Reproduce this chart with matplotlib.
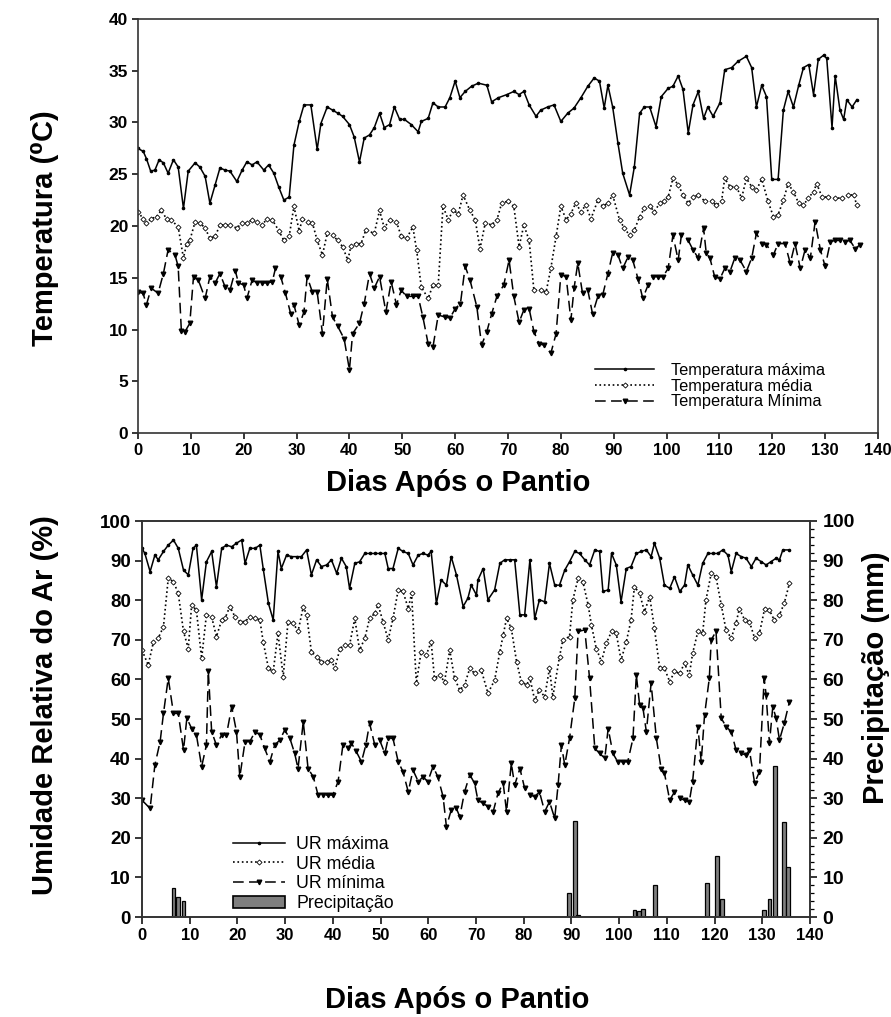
import matplotlib
matplotlib.use("Agg")
import matplotlib.pyplot as plt
from matplotlib.ticker import MultipleLocator
from matplotlib.patches import Patch
from matplotlib.lines import Line2D

plt.rcParams['font.family'] = ['Liberation Sans', 'DejaVu Sans']

# ---------------- Temperature data (days after planting) ----------------
tmax_days = [0, 1, 1.6, 2.4, 3.2, 4, 4.8, 5.7, 6.7, 7.6, 8.6, 9.5, 10.8, 11.7, 12.7, 13.6, 14.6,
             15.5, 16.5, 17.4, 18.7, 19.7, 20.6, 21.6, 22.5, 23.8, 24.7, 25.7, 26.6, 27.6, 28.6,
             29.5, 30.5, 31.4, 32.7, 33.9, 34.6, 35.8, 36.8, 37.8, 38.7, 40, 40.9, 41.9, 42.8,
             43.8, 44.7, 45.7, 46.6, 47.6, 48.5, 49.5, 50.4, 51.7, 53, 53.6, 54.9, 55.8, 56.8,
             58.1, 59, 60, 60.9, 61.9, 63.1, 64.4, 66, 66.9, 68.2, 69.8, 71.1, 72.1, 73, 74,
             75.3, 76.2, 77.5, 78.7, 80, 81.3, 82.5, 83.8, 85.1, 86.3, 87.3, 88.2, 88.9, 89.8,
             90.8, 91.7, 93, 93.9, 94.9, 95.8, 96.8, 98, 99, 100.3, 101.2, 102.2, 103.1, 104.1,
             105, 106, 107, 107.8, 108.8, 110.1, 111, 112.3, 113.5, 115.1, 116.1, 117, 118,
             118.9, 119.9, 121.1, 122.1, 123, 124, 125, 125.9, 126.9, 127.8, 128.7, 129.7,
             130.3, 131.3, 131.9, 132.8, 133.5, 134.1, 135.1, 136]
tmax_vals = [27.5, 27.2, 26.5, 25.3, 25.4, 26.4, 26.1, 25.1, 26.4, 25.7, 21.7, 25.3, 26.1, 25.7,
             24.8, 22.2, 24.0, 25.6, 25.4, 25.3, 24.3, 25.4, 26.2, 25.9, 26.2, 25.4, 25.9, 25.1,
             23.8, 22.5, 22.8, 27.8, 30.1, 31.7, 31.7, 27.4, 29.9, 31.5, 31.2, 30.9, 30.6, 29.8,
             28.6, 26.2, 28.5, 28.8, 29.5, 30.9, 29.5, 29.8, 31.5, 30.3, 30.3, 29.8, 29.1, 30.1,
             30.4, 31.9, 31.5, 31.5, 32.4, 34.0, 32.4, 33.0, 33.5, 33.8, 33.6, 32.0, 32.4, 32.7,
             33.0, 32.7, 33.0, 31.7, 30.6, 31.2, 31.5, 31.7, 30.1, 30.9, 31.4, 32.4, 33.5, 34.3,
             34.0, 31.4, 33.6, 31.5, 28.0, 25.1, 23.0, 25.7, 30.9, 31.5, 31.5, 29.6, 32.5, 33.3,
             33.5, 34.5, 33.2, 29.0, 31.7, 33.0, 30.4, 31.5, 30.6, 31.9, 35.1, 35.3, 35.9, 36.4,
             35.3, 31.5, 33.6, 32.5, 24.5, 24.5, 31.2, 33.0, 31.5, 33.6, 35.3, 35.6, 32.7, 36.1,
             36.5, 36.2, 29.5, 34.5, 31.2, 30.3, 32.2, 31.5, 32.2]

tmed_days = [0, 0.95, 1.6, 2.5, 3.5, 4.4, 5.4, 6.3, 7.6, 8.6, 9.2, 9.8, 10.8, 11.7, 12.7, 13.6,
             14.6, 15.5, 16.5, 17.4, 18.7, 19.7, 20.6, 21.6, 22.5, 23.5, 24.4, 25.4, 26.7, 27.6,
             28.6, 29.5, 30.5, 31.1, 32.1, 33, 33.9, 34.9, 35.8, 36.8, 37.8, 38.7, 39.7, 40.3,
             41.2, 42.2, 43.1, 44.7, 45.7, 46.6, 47.6, 48.9, 49.8, 50.8, 52, 52.7, 53.6, 54.9,
             55.8, 56.8, 57.7, 58.7, 59.6, 60.6, 61.5, 62.8, 63.8, 64.7, 65.7, 66.9, 67.9, 68.8,
             70, 71.1, 72.1, 73, 74, 74.9, 76.2, 77.2, 78.1, 79.1, 80, 81, 81.9, 82.8, 83.8,
             84.7, 85.7, 87, 87.9, 88.9, 89.8, 91.1, 92, 93, 93.9, 94.9, 95.8, 96.8, 97.7, 98.7,
             99.6, 100.3, 101.2, 102.2, 103.1, 104.1, 105, 106, 107.2, 108.5, 109.4, 110.4, 111,
             112, 113.2, 114.2, 115.1, 116.1, 117, 118, 119.2, 120.2, 121.1, 122.1, 123, 124,
             125, 125.9, 126.8, 127.8, 128.4, 129.4, 130.6, 131.9, 133.2, 134.4, 135.4, 136]
tmed_vals = [21.4, 20.7, 20.3, 20.7, 20.9, 21.5, 20.7, 20.6, 19.9, 16.9, 18.3, 18.6, 20.4, 20.3,
             19.8, 18.8, 19.0, 20.1, 20.1, 20.1, 19.8, 20.3, 20.3, 20.6, 20.4, 20.1, 20.7, 20.6,
             19.5, 18.6, 19.0, 21.9, 19.5, 20.7, 20.4, 20.3, 18.6, 17.2, 19.3, 19.1, 18.6, 18.0,
             16.7, 18.1, 18.3, 18.3, 19.6, 19.3, 21.5, 19.8, 20.6, 20.4, 19.0, 18.8, 19.9, 17.7,
             14.1, 13.0, 14.3, 14.3, 21.9, 20.6, 21.5, 21.2, 23.0, 21.5, 20.6, 17.8, 20.3, 20.1,
             20.6, 22.2, 22.4, 21.9, 18.0, 20.1, 18.6, 13.8, 13.8, 13.6, 15.9, 19.0, 21.9, 20.6,
             21.2, 22.2, 21.4, 22.0, 20.7, 22.5, 21.9, 22.2, 23.0, 20.6, 19.8, 19.1, 19.6, 20.9,
             21.7, 21.9, 21.4, 22.2, 22.4, 22.8, 24.6, 24.0, 23.0, 22.2, 22.8, 23.0, 22.4, 22.4,
             22.0, 22.4, 24.6, 23.8, 23.8, 22.7, 24.6, 23.8, 23.5, 24.5, 22.4, 20.9, 21.1, 22.5,
             24.1, 23.3, 22.2, 22.0, 22.7, 23.3, 24.1, 22.8, 22.8, 22.7, 22.7, 23.0, 23.0, 22.0]

tmin_days = [0, 0.95, 1.6, 2.5, 3.8, 4.8, 5.7, 7, 7.6, 8.2, 8.9, 9.8, 10.5, 11.4, 12.7, 13.6,
             14.6, 15.5, 16.5, 17.4, 18.4, 19, 20, 20.6, 21.6, 22.5, 23.5, 24.4, 25.4, 26, 27,
             27.9, 28.9, 29.5, 30.5, 31.4, 32, 33, 33.9, 34.9, 35.8, 36.8, 37.8, 39, 40, 40.6,
             41.9, 42.8, 43.8, 44.7, 45.7, 46.9, 47.9, 48.9, 49.8, 50.8, 52, 53, 53.9, 54.9,
             55.8, 56.8, 58.1, 59, 60, 61, 61.9, 62.8, 64.1, 65, 66, 66.9, 67.9, 69.2, 70.2,
             71.1, 72.1, 73, 74, 74.9, 75.9, 76.8, 78.1, 79.1, 80, 81, 81.9, 82.5, 83.2, 84.1,
             85.1, 86, 87, 87.9, 88.9, 89.8, 90.8, 91.7, 92.7, 93.6, 94.6, 95.5, 96.5, 97.4,
             98.4, 99.3, 100.3, 101.2, 102.2, 102.8, 104.1, 105, 106, 107, 107.5, 108.2, 109.1,
             110.1, 111, 112, 112.9, 113.9, 115.1, 116.1, 117, 118, 118.9, 120.2, 121.1, 122.4,
             123.4, 124.3, 125.3, 126.2, 127.2, 128.1, 129.1, 130, 131, 131.9, 132.8, 133.8,
             134.7, 135.7, 136.6]
tmin_vals = [13.6, 13.5, 12.4, 14.0, 13.5, 15.4, 17.7, 17.2, 16.1, 9.9, 9.8, 10.6, 15.1, 14.8,
             13.0, 15.1, 14.5, 15.4, 14.1, 13.8, 15.7, 14.5, 14.3, 13.0, 14.8, 14.5, 14.5, 14.5,
             14.6, 15.9, 15.1, 13.5, 11.5, 12.4, 10.4, 11.7, 15.1, 13.6, 13.6, 9.6, 14.9, 11.2,
             10.3, 9.1, 6.1, 9.6, 10.6, 12.5, 15.4, 14.0, 15.1, 11.7, 14.6, 12.4, 13.8, 13.2,
             13.2, 13.2, 11.2, 8.6, 8.3, 11.4, 11.2, 11.1, 12.0, 12.5, 16.1, 14.8, 12.2, 8.5,
             9.8, 11.5, 13.2, 14.3, 16.7, 13.2, 10.7, 11.9, 12.0, 9.8, 8.6, 8.5, 7.7, 9.6, 15.3,
             15.1, 10.9, 14.0, 16.4, 13.5, 13.8, 11.5, 13.2, 13.3, 15.4, 17.4, 17.2, 15.9, 17.0,
             16.7, 14.9, 13.0, 14.3, 15.1, 15.1, 15.1, 15.9, 19.1, 16.7, 19.1, 18.6, 17.7, 16.9,
             19.8, 17.4, 16.9, 15.1, 14.9, 15.9, 15.6, 16.9, 16.7, 15.6, 16.9, 19.3, 18.3, 18.2,
             17.2, 18.3, 18.3, 16.4, 18.3, 15.9, 17.7, 16.9, 20.4, 17.7, 16.1, 18.5, 18.6, 18.6,
             18.5, 18.6, 17.8, 18.2]

# ---------------- Relative humidity and rainfall ----------------
urmax_days = [0, 0.6, 1.7, 2.7, 3.4, 4.5, 5.5, 6.6, 7.6, 8.7, 9.7, 10.7, 11.4, 12.5, 13.5, 14.6,
              15.6, 16.7, 17.7, 18.8, 19.8, 20.9, 21.6, 22.6, 23.7, 24.7, 25.4, 26.5, 27.5, 28.5,
              29.2, 30.3, 31.3, 32.4, 33.4, 34.5, 35.5, 36.6, 37.6, 38.7, 39.7, 40.8, 41.8, 42.8,
              43.5, 44.6, 45.6, 46.7, 47.7, 48.8, 49.8, 50.9, 51.6, 52.6, 53.7, 54.7, 55.8, 56.8,
              57.9, 58.9, 59.9, 60.6, 61.7, 62.7, 63.8, 64.8, 65.9, 67.3, 68.3, 69, 70.1, 70.4,
              71.5, 72.5, 73.9, 75, 76, 77.1, 78.1, 79.2, 80.2, 81.3, 82.3, 83.3, 84.4, 85.4,
              86.5, 87.5, 88.6, 89.6, 90.7, 91.7, 92.8, 93.8, 94.9, 95.9, 96.6, 97.7, 98.4, 99.4,
              100.4, 101.5, 102.5, 103.6, 104.6, 105.7, 106.7, 107.4, 108.5, 109.5, 110.6, 111.6,
              112.7, 113.7, 114.4, 115.4, 116.5, 117.5, 118.6, 119.6, 120.7, 121.7, 122.8, 123.5,
              124.5, 125.6, 126.6, 127.7, 128.7, 129.8, 130.8, 131.8, 132.9, 133.6, 134.3, 135.7]
urmax_vals = [93.1, 91.8, 87.2, 91.4, 90.2, 92.3, 93.9, 95.2, 93.1, 87.6, 86.4, 93.1, 93.9, 80.1,
              89.7, 92.3, 83.4, 93.1, 93.9, 93.5, 94.4, 95.2, 89.3, 93.1, 93.1, 93.9, 88.0, 79.2,
              75.0, 92.3, 88.0, 91.4, 91.0, 91.0, 91.0, 92.7, 86.4, 90.2, 88.5, 88.9, 90.2, 86.8,
              90.6, 88.5, 83.0, 89.3, 89.7, 91.8, 91.8, 91.8, 91.8, 91.8, 88.0, 88.0, 93.1, 92.3,
              91.8, 88.9, 91.4, 91.8, 91.4, 92.3, 79.2, 85.1, 83.8, 91.0, 86.4, 78.4, 80.5, 83.8,
              81.3, 85.1, 88.0, 80.1, 82.6, 89.3, 90.2, 90.2, 90.2, 76.3, 76.3, 90.2, 75.4, 80.1,
              79.6, 89.3, 83.8, 83.8, 87.6, 89.7, 92.3, 91.8, 90.2, 88.9, 92.7, 92.3, 82.2, 82.6,
              91.8, 88.9, 79.6, 88.0, 88.5, 91.8, 92.3, 92.7, 91.0, 94.4, 90.6, 83.8, 83.0, 85.9,
              82.2, 83.8, 88.9, 86.4, 83.8, 89.3, 91.8, 91.8, 91.8, 92.7, 91.4, 87.2, 91.8, 91.0,
              90.6, 88.5, 90.6, 89.7, 88.9, 89.7, 90.6, 90.2, 92.7, 92.7]

urmed_days = [0, 1.3, 2.4, 3.4, 4.5, 5.5, 6.6, 7.6, 8.7, 9.7, 10.4, 11.4, 12.5, 13.5, 14.6, 15.6,
              16.7, 17.4, 18.4, 19.5, 20.5, 21.6, 22.6, 23.7, 24.7, 25.4, 26.5, 27.5, 28.5, 29.6,
              30.6, 31.7, 32.7, 33.8, 34.5, 35.5, 36.6, 37.6, 38.7, 39.7, 40.4, 41.5, 42.5, 43.5,
              44.6, 45.6, 46.7, 47.7, 48.8, 49.5, 50.5, 51.6, 52.6, 53.7, 54.7, 55.8, 56.5, 57.5,
              58.5, 59.6, 60.6, 61.3, 62.4, 63.4, 64.5, 65.5, 66.6, 67.6, 68.7, 69.7, 71.1, 72.5,
              73.9, 75, 75.7, 76.4, 77.4, 78.5, 79.5, 80.6, 81.3, 82.3, 83.3, 84.4, 85.4, 86.1,
              87.5, 88.2, 89.6, 90.3, 91.4, 92.4, 93.5, 94.2, 95.2, 96.3, 97.3, 98.4, 99.4, 100.4,
              101.5, 102.5, 103.2, 104.3, 105.3, 106.4, 107.4, 108.5, 109.5, 110.6, 111.6, 112.7,
              113.7, 114.7, 115.4, 116.5, 117.5, 118.2, 119.3, 120.3, 121.4, 122.4, 123.5, 124.5,
              125.2, 126.3, 127.3, 128.4, 129.4, 130.5, 131.5, 132.5, 133.6, 134.6, 135.7]
urmed_vals = [67.4, 63.6, 69.5, 70.4, 73.3, 85.5, 84.7, 81.7, 72.1, 67.8, 78.8, 77.5, 65.3, 76.3,
              75.8, 70.8, 75.0, 75.4, 78.4, 75.8, 74.6, 74.6, 75.8, 75.4, 75.0, 69.5, 62.8, 62.0,
              71.6, 60.7, 74.6, 74.2, 72.1, 78.4, 76.3, 67.0, 65.7, 64.5, 64.5, 64.9, 62.8, 67.8,
              68.7, 68.7, 75.4, 67.4, 70.4, 75.4, 76.7, 78.8, 74.6, 70.0, 75.4, 82.6, 82.2, 77.9,
              81.7, 59.0, 67.0, 66.2, 69.5, 60.3, 61.1, 59.4, 67.4, 60.3, 57.3, 58.6, 62.8, 61.5,
              62.4, 56.5, 59.8, 67.0, 71.2, 75.4, 72.9, 64.5, 59.4, 58.6, 60.3, 54.8, 57.3, 55.6,
              62.8, 55.6, 65.7, 70.0, 70.8, 80.1, 85.5, 84.7, 78.8, 73.7, 67.8, 64.5, 69.1, 72.1,
              71.6, 64.9, 69.5, 75.0, 83.4, 81.7, 77.1, 80.9, 72.9, 62.8, 62.8, 59.4, 62.0, 61.5,
              64.1, 61.1, 66.6, 72.1, 71.6, 80.1, 86.8, 85.9, 78.8, 72.5, 70.4, 74.2, 77.9, 75.0,
              74.6, 70.4, 71.6, 77.9, 77.5, 75.0, 76.3, 79.2, 84.3]

urmin_days = [0, 1.7, 2.7, 3.8, 4.5, 5.5, 6.6, 7.6, 8.7, 9.4, 10.4, 11.4, 12.5, 13.5, 13.9, 14.6,
              15.6, 16.7, 17.7, 18.8, 19.8, 20.5, 21.6, 22.6, 23.7, 24.7, 25.7, 26.8, 27.8, 28.9,
              29.9, 31, 32, 32.7, 33.8, 34.8, 35.9, 36.9, 37.9, 39, 40, 41.1, 42.1, 43.2, 43.9,
              44.9, 46, 46.9, 47.7, 48.8, 49.8, 50.9, 51.6, 52.6, 53.7, 54.7, 55.8, 56.8, 57.9,
              58.9, 59.9, 61, 62, 63.1, 63.8, 64.8, 65.9, 66.6, 67.6, 68.7, 69.7, 70.4, 71.5,
              72.5, 73.6, 74.6, 75.7, 76.4, 77.4, 78.1, 79.2, 80.2, 81.3, 82.3, 83.3, 84.4, 85.4,
              86.5, 87.2, 87.9, 88.6, 89.6, 90.7, 91.4, 92.8, 93.8, 94.9, 95.9, 97, 97.7, 98.7,
              99.7, 100.8, 101.8, 102.9, 103.6, 104.3, 105, 105.7, 106.7, 107.8, 108.8, 109.5,
              110.6, 111.6, 112.7, 113.7, 114.7, 115.4, 116.5, 117.2, 117.9, 118.9, 119.3, 120.3,
              121.4, 122.4, 123.5, 124.5, 125.6, 126.6, 127.3, 128.4, 129.4, 130.4, 130.8, 131.5,
              132.2, 132.9, 133.6, 134.6, 135.7]
urmin_vals = [29.5, 27.4, 38.4, 44.3, 51.4, 60.3, 51.4, 51.4, 42.2, 50.2, 47.6, 46.0, 38.0, 43.4,
              62.0, 46.8, 43.4, 46.0, 46.0, 53.1, 46.8, 35.4, 44.3, 44.3, 46.8, 46.0, 42.6, 39.2,
              43.4, 44.7, 47.2, 45.1, 41.3, 37.5, 49.3, 37.5, 35.4, 30.8, 30.8, 30.8, 30.8, 34.2,
              43.4, 42.6, 43.9, 41.8, 39.2, 43.4, 48.9, 43.4, 44.7, 41.3, 45.1, 45.1, 39.2, 36.7,
              31.6, 37.1, 34.2, 35.4, 34.2, 38.0, 35.4, 30.4, 22.8, 27.0, 27.4, 25.3, 31.6, 35.9,
              33.8, 29.5, 28.7, 27.9, 26.6, 31.2, 33.8, 26.6, 38.8, 33.3, 37.5, 32.5, 30.8, 30.4,
              31.6, 26.6, 29.1, 24.9, 33.3, 43.4, 38.4, 45.1, 55.2, 72.1, 72.5, 60.3, 42.6, 41.3,
              40.1, 47.6, 41.3, 39.2, 39.2, 39.2, 45.1, 61.1, 53.5, 52.7, 46.8, 59.0, 45.1, 37.5,
              36.3, 29.5, 31.6, 30.0, 29.5, 29.1, 34.2, 48.1, 39.2, 51.0, 60.3, 70.0, 72.1, 50.2,
              48.1, 46.8, 42.2, 41.3, 40.9, 42.2, 33.8, 36.7, 60.3, 56.1, 43.9, 53.1, 50.2, 44.7,
              48.9, 54.4]

rain_days = [6.6, 7.6, 8.7, 89.5, 90.7, 91.4, 103.2, 104.1, 105.0, 107.6, 118.4, 120.5, 121.6,
             130.4, 131.5, 132.6, 134.5, 135.4]
rain_mm = [7.3, 5.1, 4.1, 6.0, 24.2, 0.5, 1.8, 1.5, 2.0, 8.1, 8.5, 15.4, 4.5, 1.8, 4.5, 38.2,
           24.0, 12.7]

temp_labels = ['Temperatura máxima', 'Temperatura média', 'Temperatura Mínima']
ur_labels = ['UR máxima', 'UR média', 'UR mínima', 'Precipitação']
xlabel = 'Dias Após o Pantio'

W, H = 891, 1017
fig = plt.figure(figsize=(W / 100, H / 100), dpi=100)

def fx(px):
    return px / W

def fy(py):
    return 1 - py / H

lw = 1.1
dash = (0, (7, 3.5))
st_max = dict(color='black', lw=lw, ls='-', marker='o', ms=1.6)
st_med = dict(color='black', lw=1.2, ls=':', marker='D', ms=2.6, mfc='white', mec='black', mew=0.6)
st_min = dict(color='black', lw=lw, ls=dash, marker='v', ms=3.3)

# ---------------- Top panel ----------------
ax1 = fig.add_axes([fx(138), fy(433), fx(878) - fx(138), fy(19) - fy(433)])
ax1.plot(tmax_days, tmax_vals, label=temp_labels[0], **st_max)
ax1.plot(tmed_days, tmed_vals, label=temp_labels[1], **st_med)
ax1.plot(tmin_days, tmin_vals, label=temp_labels[2], **st_min)
ax1.set_xlim(0, 140)
ax1.set_ylim(0, 40)
ax1.xaxis.set_major_locator(MultipleLocator(10))
ax1.yaxis.set_major_locator(MultipleLocator(5))
ax1.tick_params(direction='out', length=4, width=1.1, pad=3)
for lab in ax1.get_xticklabels():
    lab.set_fontsize(12)
    lab.set_fontweight('bold')
for lab in ax1.get_yticklabels():
    lab.set_fontsize(12.5)
    lab.set_fontweight('bold')
for sp in ax1.spines.values():
    sp.set_linewidth(1.2)
    sp.set_color('#333333')
ax1.legend(loc='center left', bbox_to_anchor=(fx(595), fy(386)),
           bbox_transform=fig.transFigure, frameon=False,
           fontsize=11.8, handlelength=3.6, handletextpad=1.05, labelspacing=0.05,
           borderpad=0, borderaxespad=0, numpoints=1)

fig.text(fx(458), fy(483), xlabel, ha='center', va='center', fontsize=21,
         fontweight='bold')
fig.text(fx(45), fy(228), 'Temperatura (⁰C)', ha='center', va='center', rotation=90,
         fontsize=21, fontweight='bold')

# ---------------- Bottom panel ----------------
ax2 = fig.add_axes([fx(142), fy(917), fx(810) - fx(142), fy(521) - fy(917)])
ax3 = ax2.twinx()
ax3.bar(rain_days, rain_mm, width=0.8, color='#7f7f7f', edgecolor='black', linewidth=0.9,
        label=ur_labels[3])
ax3.set_ylim(0, 100)
ax3.yaxis.set_major_locator(MultipleLocator(10))
ax3.yaxis.set_minor_locator(MultipleLocator(2))
ax3.tick_params(axis='y', which='major', direction='out', length=5, width=1.1, pad=4)
ax3.tick_params(axis='y', which='minor', direction='out', length=3, width=0.9)
for lab in ax3.get_yticklabels():
    lab.set_fontsize(14)
    lab.set_fontweight('bold')

ax2.set_zorder(ax3.get_zorder() + 1)
ax2.patch.set_visible(False)
ax2.plot(urmax_days, urmax_vals, label=ur_labels[0], **st_max)
ax2.plot(urmed_days, urmed_vals, label=ur_labels[1], **st_med)
ax2.plot(urmin_days, urmin_vals, label=ur_labels[2], **st_min)
ax2.set_xlim(0, 140)
ax2.set_ylim(0, 100)
ax2.xaxis.set_major_locator(MultipleLocator(10))
ax2.yaxis.set_major_locator(MultipleLocator(10))
ax2.tick_params(direction='out', length=5, width=1.1, pad=3)
for lab in ax2.get_xticklabels():
    lab.set_fontsize(12)
    lab.set_fontweight('bold')
for lab in ax2.get_yticklabels():
    lab.set_fontsize(13.5)
    lab.set_fontweight('bold')
for a in (ax2, ax3):
    for sp in a.spines.values():
        sp.set_linewidth(1.2)
        sp.set_color('#333333')

handles = [
    Line2D([], [], **st_max),
    Line2D([], [], **st_med),
    Line2D([], [], **st_min),
    Patch(facecolor='#7f7f7f', edgecolor='black', linewidth=1.2),
]
ax2.legend(handles, ur_labels, loc='center left', bbox_to_anchor=(fx(233), fy(874)),
           bbox_transform=fig.transFigure, frameon=False, fontsize=12.8,
           handlelength=2.9, handletextpad=0.65, labelspacing=0.15, borderpad=0,
           borderaxespad=0, numpoints=1)

fig.text(fx(457), fy(1000), xlabel, ha='center', va='center', fontsize=21,
         fontweight='bold')
fig.text(fx(45), fy(705), 'Umidade Relativa do Ar (%)', ha='center', va='center',
         rotation=90, fontsize=21, fontweight='bold')
fig.text(fx(876), fy(678), 'Precipitação (mm)', ha='center', va='center', rotation=90,
         fontsize=21, fontweight='bold')

fig.savefig('out.png', dpi=100)
